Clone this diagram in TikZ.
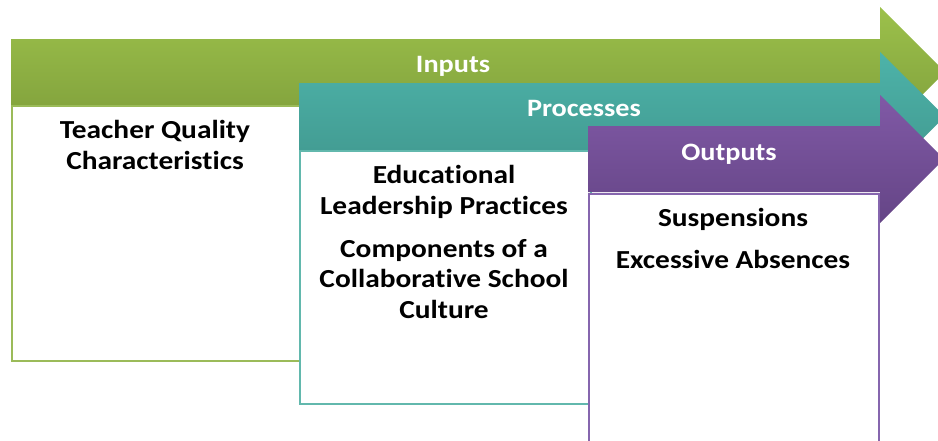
\documentclass[tikz,border=0pt]{standalone}
\usepackage{fontspec}
\setmainfont{Carlito}[FakeStretch=1.13, Ligatures=NoCommon]
\definecolor{grnTop}{HTML}{9CC14B}
\definecolor{grnBot}{HTML}{7D9C3A}
\definecolor{tealTop}{HTML}{4DB3A9}
\definecolor{tealBot}{HTML}{40968D}
\definecolor{purTop}{HTML}{8059A6}
\definecolor{purBot}{HTML}{654586}
\definecolor{grnLine}{HTML}{9BBB59}
\definecolor{tealLine}{HTML}{62B8AD}
\definecolor{purLine}{HTML}{8666AE}
\tikzset{
	header/.style = {text=white, font=\fontsize{25}{30}\selectfont\bfseries, inner sep=0pt, anchor=base},
	item/.style = {font=\fontsize{26}{30.5}\selectfont\bfseries, align=center, inner sep=0pt, anchor=base},
	panel/.style = {draw=#1, line width=1.8pt, fill=white, anchor=north west, inner sep=0pt},
}
\begin{document}
\begin{tikzpicture}[x = 1pt, y = -1pt]
		\clip (0,0) rectangle (938,440);
		% inputs
		\shade[top color=grnTop, bottom color=grnBot] (11,39) -- (880,39) -- (880,7) -- (945,72) -- (880,137) -- (880,105) -- (11,105) -- cycle;
		\node [header] (inputs) at (453,72) {Inputs};
		\node [panel=grnLine, minimum width=288pt, minimum height=255pt] (inbox) at (11,105) {};
		\node [item] (teacher) at (155,169) {Teacher Quality\\Characteristics};
		% processes
		\shade[top color=tealTop, bottom color=tealBot] (299,83) -- (880,83) -- (880,52) -- (945,116.5) -- (880,181) -- (880,150) -- (299,150) -- cycle;
		\node [header] (processes) at (584,116) {Processes};
		\node [panel=tealLine, minimum width=291pt, minimum height=253pt] (procbox) at (299,150) {};
		\node [item] (leader) at (444,214) {Educational\\Leadership Practices};
		\node [item] (culture) at (444,318) {Components of a\\Collaborative School\\Culture};
		% outputs
		\shade[top color=purTop, bottom color=purBot] (588,126) -- (880,126) -- (880,95) -- (944,159) -- (880,223) -- (880,192) -- (588,192) -- cycle;
		\node [header] (outputs) at (729,160) {Outputs};
		\node [panel=purLine, minimum width=290pt, minimum height=260pt] (outbox) at (588,193) {};
		\node [item] (suspend) at (733,226) {Suspensions};
		\node [item] (absence) at (733,268) {Excessive Absences};
	\end{tikzpicture}
\end{document}
